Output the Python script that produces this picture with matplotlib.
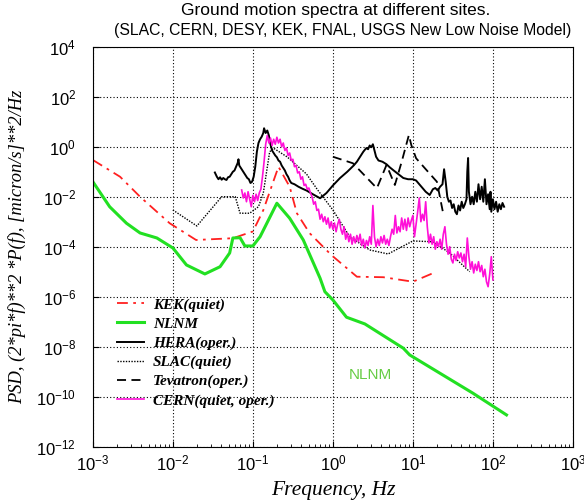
import matplotlib
matplotlib.use("Agg")
import matplotlib.pyplot as plt
import matplotlib.ticker as mticker
import numpy as np

plt.rcParams['font.family'] = ['Liberation Sans', 'DejaVu Sans']
plt.rcParams['mathtext.fontset'] = 'custom'
plt.rcParams['mathtext.rm'] = 'Liberation Sans'
plt.rcParams['mathtext.it'] = 'Liberation Sans:italic'

# all values are log10(frequency), log10(PSD)
nlnm_lf = [-3.0, -2.79, -2.58, -2.41, -2.20, -2.0, -1.83, -1.60, -1.41, -1.29, -1.25,
           -1.16, -1.10, -1.0, -0.91, -0.70, -0.54, -0.37, -0.16, -0.10, 0.0, 0.17,
           0.40, 0.88, 0.96, 1.75, 2.17]
nlnm_lp = [-1.40, -2.40, -3.06, -3.45, -3.65, -4.05, -4.73, -5.09, -4.80, -4.25, -3.65,
           -3.64, -3.97, -3.97, -3.60, -2.26, -2.86, -3.73, -5.26, -5.80, -6.13, -6.82,
           -7.09, -8.06, -8.33, -9.86, -10.73]

kek_lf = [-3.0, -2.66, -2.41, -2.04, -1.71, -1.25, -1.0, -0.87, -0.68, -0.54, -0.45,
          -0.29, -0.02, 0.30, 0.63, 1.0, 1.25]
kek_lp = [-0.53, -1.20, -2.0, -3.06, -3.73, -3.66, -3.39, -2.54, -0.80, -1.60, -2.66,
          -3.46, -4.33, -5.2, -5.22, -5.40, -5.06]

hera_lf = [-1.475, -1.45, -1.43, -1.41, -1.39, -1.37, -1.35, -1.33, -1.31, -1.29, -1.27,
           -1.25, -1.23, -1.21, -1.19, -1.18, -1.17, -1.15, -1.13, -1.11, -1.09, -1.07,
           -1.05, -1.03, -1.01, -0.99, -0.97, -0.95, -0.93, -0.91, -0.89, -0.87, -0.86,
           -0.84, -0.82, -0.80, -0.78, -0.76, -0.74, -0.72, -0.70, -0.68, -0.66, -0.64,
           -0.62, -0.60, -0.58, -0.56, -0.54, -0.52, -0.48, -0.43, -0.38, -0.33, -0.25,
           -0.16, -0.08, 0.0, 0.09, 0.18, 0.26, 0.30, 0.34, 0.38, 0.40, 0.42, 0.44, 0.46,
           0.48, 0.50, 0.52, 0.54, 0.57, 0.62, 0.67, 0.71, 0.76, 0.82, 0.88, 0.94, 1.0,
           1.04, 1.08, 1.12, 1.16, 1.21, 1.25, 1.28, 1.31, 1.34, 1.37, 1.39, 1.41, 1.43,
           1.45, 1.47, 1.49, 1.51, 1.53, 1.55, 1.57, 1.59, 1.61, 1.63, 1.65, 1.67, 1.68,
           1.69, 1.70, 1.72, 1.74, 1.76, 1.78, 1.80, 1.82, 1.84, 1.86, 1.88, 1.90, 1.92,
           1.94, 1.96, 1.97, 1.98, 2.0, 2.02, 2.04, 2.06, 2.08, 2.10, 2.12, 2.14]
hera_lp = [-1.03, -1.2, -1.3, -1.22, -1.32, -1.25, -1.3, -1.33, -1.22, -1.2, -1.1,
           -1.0, -0.95, -0.8, -0.65, -0.5, -0.75, -0.85, -0.95, -1.05, -1.15, -1.25,
           -1.3, -1.45, -1.4, -1.2, -0.8, -0.2, 0.15, 0.3, 0.4, 0.55, 0.74,
           0.55, 0.65, 0.45, 0.1, -0.15, -0.25, -0.35, -0.42, -0.55, -0.6, -0.75,
           -0.85, -0.95, -1.1, -1.2, -1.35, -1.45, -1.5, -1.6, -1.68, -1.75, -1.9,
           -2.06, -1.85, -1.55, -1.25, -1.0, -0.75, -0.6, -0.4, -0.2, -0.12, -0.05, -0.1, 0.05,
           -0.02, 0.1, -0.15, -0.4, -0.55, -0.6, -0.7, -0.82, -0.95, -1.1, -1.25, -1.3, -1.3,
           -1.35, -1.5, -1.65, -1.8, -1.93, -1.7, -1.65, -1.75, -1.6, -1.5, -0.9, -1.4, -2.0,
           -2.2, -2.15, -2.45, -2.3, -2.6, -2.7, -2.35, -2.55, -2.2, -2.45, -2.3, -2.1, -1.0,
           -0.45, -1.8, -2.3, -2.0, -2.3, -1.8, -2.2, -1.5, -2.1, -1.6, -2.2, -1.3, -2.3,
           -1.9, -2.5, -1.8, -2.6, -2.1, -2.5, -2.2, -2.6, -2.3, -2.5, -2.25, -2.4]

slac_lf = [-2.0, -1.70, -1.39, -1.22, -1.16, -1.04, -0.93, -0.87, -0.79, -0.74, -0.57,
           -0.33, -0.19, 0.0, 0.21, 0.46, 0.69, 1.0, 1.25, 1.46, 1.71]
slac_lp = [-2.53, -3.17, -2.0, -2.0, -2.66, -2.66, -2.4, -1.86, -0.2, -0.06, -0.41,
           -1.09, -1.73, -2.53, -3.6, -4.13, -4.29, -3.77, -3.8, -4.25, -5.0]

tev_lf = [0.0, 0.25, 0.55, 0.67, 0.775, 0.86, 0.95, 0.98, 1.04, 1.15, 1.30, 1.38]
tev_lp = [-0.40, -0.66, -1.66, -0.73, -1.53, -0.60, 0.47, 0.07, -0.46, -0.86, -1.4, -2.69]

cern_lf = [-1.14, -1.12, -1.10, -1.08, -1.06, -1.04, -1.02, -1.00, -0.98, -0.96, -0.94,
           -0.92, -0.90, -0.88, -0.86, -0.84, -0.82, -0.80, -0.78, -0.76, -0.74, -0.72,
           -0.70, -0.68, -0.66, -0.64, -0.62, -0.60, -0.58, -0.56, -0.54, -0.52, -0.50,
           -0.48, -0.46, -0.44, -0.42, -0.40, -0.38, -0.36, -0.34, -0.32, -0.30, -0.28,
           -0.26, -0.24, -0.22, -0.20, -0.18, -0.16, -0.14, -0.12, -0.10, -0.08, -0.06,
           -0.04, -0.02, 0.0, 0.02, 0.04, 0.06, 0.08, 0.10, 0.12, 0.14, 0.16, 0.18, 0.20,
           0.22, 0.24, 0.26, 0.28, 0.30, 0.32, 0.34, 0.36, 0.38, 0.40, 0.42, 0.44, 0.46,
           0.48, 0.50, 0.52, 0.54, 0.56, 0.58, 0.60, 0.62, 0.64, 0.66, 0.68, 0.70, 0.72,
           0.74, 0.76, 0.78, 0.80, 0.82, 0.84, 0.86, 0.88, 0.90, 0.92, 0.94, 0.96, 0.98,
           1.00, 1.02, 1.04, 1.06, 1.08, 1.10, 1.12, 1.14, 1.16, 1.18, 1.20, 1.22, 1.24,
           1.26, 1.28, 1.30, 1.32, 1.34, 1.36, 1.38, 1.40, 1.42, 1.44, 1.46, 1.48, 1.50,
           1.52, 1.54, 1.56, 1.58, 1.60, 1.62, 1.64, 1.66, 1.68, 1.70, 1.72, 1.74, 1.76,
           1.78, 1.80, 1.82, 1.84, 1.86, 1.88, 1.90, 1.92, 1.94, 1.96, 1.98, 2.0]
cern_lp = [-1.73, -2.05, -1.85, -2.2, -1.8, -2.1, -2.4, -1.95, -2.2, -1.9, -2.15,
           -1.85, -1.7, -1.2, -0.6, 0.1, 0.45, 0.15, 0.35, 0.05, 0.3, 0.1,
           0.38, 0.15, 0.3, 0.0, 0.15, -0.15, -0.05, -0.35, -0.25, -0.55, -0.5,
           -0.8, -0.75, -1.05, -1.0, -1.3, -1.2, -1.55, -1.5, -1.7, -1.65, -1.85,
           -2.0, -2.3, -2.2, -2.55, -2.5, -2.9, -2.7, -3.0, -2.8, -3.1, -2.85,
           -3.25, -3.0, -3.3, -3.05, -3.4, -3.1, -2.9, -3.3, -3.5, -3.2, -3.7, -3.45, -3.8,
           -3.5, -3.9, -3.6, -3.85, -3.55, -3.8, -3.5, -3.95, -3.7, -4.05, -3.75, -3.95, -3.6,
           -3.9, -2.35, -3.6, -4.0, -3.7, -3.95, -3.6, -3.85, -3.55, -3.9, -3.7, -3.95, -3.6,
           -3.3, -3.5, -2.75, -3.45, -3.2, -3.4, -2.85, -3.3, -2.9, -3.35, -2.85, -3.2, -2.95,
           -2.75, -3.6, -3.1, -2.6, -2.05, -3.0, -2.7, -2.95, -2.2, -3.2, -3.85, -3.5, -3.9,
           -3.6, -4.1, -3.8, -4.0, -3.7, -4.1, -3.5, -3.2, -3.9, -4.3, -4.0, -4.5, -4.65,
           -4.3, -4.55, -4.2, -4.45, -4.25, -4.6, -4.3, -4.8, -3.65, -4.4, -4.9, -4.6, -5.05,
           -4.7, -4.95, -4.6, -5.0, -4.75, -5.2, -4.9, -5.4, -5.6, -5.1, -4.4, -5.33]

x_ticks = [1e-3, 1e-2, 1e-1, 1e0, 1e1, 1e2, 1e3]
y_ticks = [1e-12, 1e-10, 1e-8, 1e-6, 1e-4, 1e-2, 1e0, 1e2, 1e4]


def p10(a):
    return 10.0 ** np.array(a)


fig = plt.figure(figsize=(5.84, 5.03), dpi=100)
ax = fig.add_axes([0.159, 0.112, 0.822, 0.795])

ax.plot(p10(kek_lf), p10(kek_lp), color='#ff2020', lw=1.3, linestyle=(0, (6, 3, 1.5, 3)),
        label='KEK(quiet)')
ax.plot(p10(nlnm_lf), p10(nlnm_lp), color='#22e022', lw=2.2, label='NLNM')
ax.plot(p10(hera_lf), p10(hera_lp), color='black', lw=1.4, label='HERA(oper.)')
ax.plot(p10(slac_lf), p10(slac_lp), color='black', lw=1.0, linestyle=(0, (1, 1)),
        label='SLAC(quiet)')
ax.plot(p10(tev_lf), p10(tev_lp), color='black', lw=1.3, linestyle=(0, (5, 3)),
        label='Tevatron(oper.)')
ax.plot(p10(cern_lf), p10(cern_lp), color='#ff10d8', lw=1.2, label='CERN(quiet, oper.)')

ax.text(2.9, 10 ** -9.12, 'NLNM', color='#66cc44', fontsize=11, ha='center', va='center')

ax.set_xscale('log')
ax.set_yscale('log')
ax.set_xlim(1e-3, 1e3)
ax.set_ylim(1e-12, 1e4)

ax.xaxis.set_major_locator(mticker.FixedLocator(x_ticks))
ax.xaxis.set_major_formatter(mticker.LogFormatterSciNotation())
ax.xaxis.set_minor_locator(mticker.LogLocator(base=10, subs=np.arange(2, 10), numticks=20))
ax.xaxis.set_minor_formatter(mticker.NullFormatter())
ax.yaxis.set_major_locator(mticker.FixedLocator(y_ticks))
ax.yaxis.set_major_formatter(mticker.LogFormatterSciNotation())
ax.yaxis.set_minor_locator(mticker.NullLocator())
ax.tick_params(which='both', direction='in', top=False, right=False)
ax.tick_params(which='major', length=4, labelsize=12)
ax.tick_params(axis='x', which='major', pad=5)
ax.tick_params(axis='y', which='major', pad=12)
ax.tick_params(which='minor', length=2)
ax.grid(True, which='major', color='black', linestyle=(0, (1, 2)), linewidth=0.8)

ax.set_xlabel('Frequency, Hz', family=['Liberation Serif'], style='italic', fontsize=15.5)
ax.xaxis.set_label_coords(0.5, -0.085)
ax.set_ylabel('PSD, (2*pi*f)**2 *P(f), [micron/s]**2/Hz', family=['Liberation Serif'],
              style='italic', fontsize=13.3)
ax.yaxis.set_label_coords(-0.14, 0.5)

fig.text(0.574, 0.980, 'Ground motion spectra at different sites.', ha='center', va='center',
         fontsize=12.5)
fig.text(0.587, 0.940, '(SLAC, CERN, DESY, KEK, FNAL, USGS New Low Noise Model)',
         ha='center', va='center', fontsize=11.3)

ax.legend(loc='upper left', bbox_to_anchor=(0.05, 0.372), frameon=False, borderpad=0,
          borderaxespad=0,
          prop={'family': 'Liberation Serif', 'style': 'italic', 'weight': 'bold', 'size': 11},
          handlelength=1.75, handletextpad=0.6, labelspacing=0.35)

fig.savefig('out.png', dpi=100)
